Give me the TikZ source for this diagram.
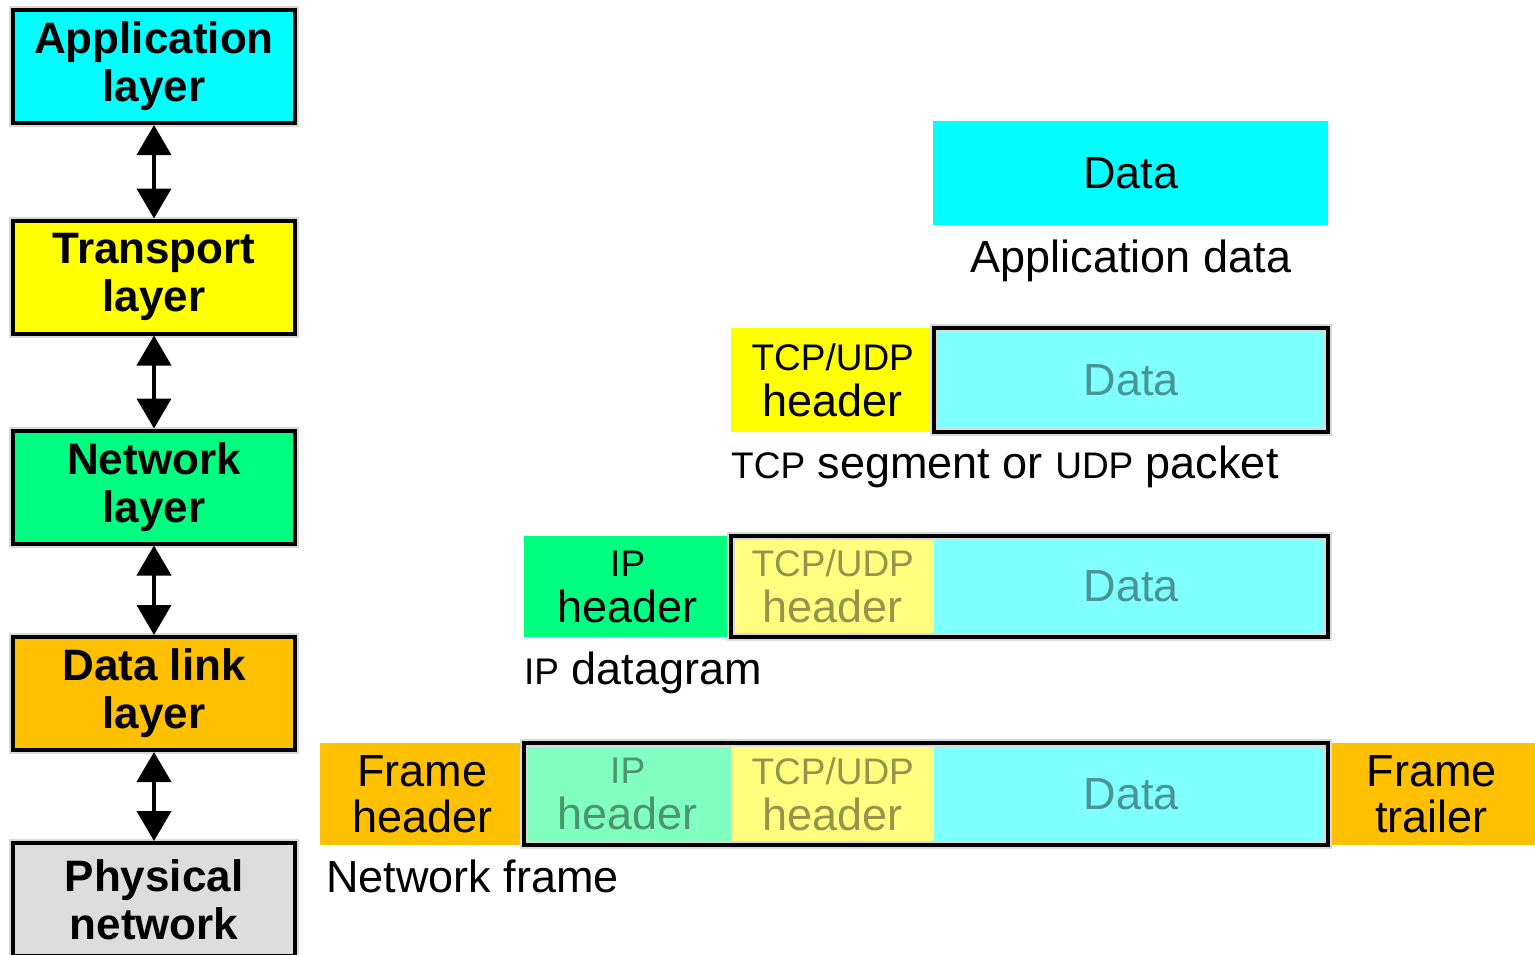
\documentclass[tikz,border=0pt]{standalone}
\usepackage{fontspec}
\setmainfont{Liberation Sans}
\usetikzlibrary{positioning,arrows.meta}

\definecolor{appcyan}{HTML}{00FFFF}
\definecolor{tpyellow}{HTML}{FFFF00}
\definecolor{netgreen}{HTML}{00FF80}
\definecolor{linkorange}{HTML}{FFC000}
\definecolor{physgray}{HTML}{DDDDDD}
\definecolor{paleapp}{HTML}{80FFFF}
\definecolor{paletp}{HTML}{FFFF80}
\definecolor{palenet}{HTML}{80FFC0}

\newcommand{\acr}[1]{{\fontsize{37}{40}\selectfont #1}}

\tikzset{
  layerbox/.style={draw, line width=4pt, minimum width=282pt, minimum height=113pt,
    inner sep=0pt, align=center, font=\bfseries\fontsize{44}{48}\selectfont,
    preaction={draw=black!15, line width=8pt}},
  cell/.style={minimum height=104pt, inner sep=0pt, anchor=north west,
    align=center, font=\fontsize{45}{48}\selectfont},
  faded/.style={text opacity=0.42},
  pkt/.style={draw, line width=4pt, preaction={draw=black!15, line width=8pt}},
  updown/.style={{Triangle[width=34pt,length=30pt]}-{Triangle[width=34pt,length=30pt]},
    line width=4pt},
  caption/.style={font=\fontsize{45}{48}\selectfont, inner sep=0pt, anchor=base west}
}

\begin{document}
\begin{tikzpicture}[x=1pt,y=-1pt]
  \useasboundingbox[fill=white] (0,0) rectangle (1535,954);

  % layer stack
  \node[layerbox, fill=appcyan] (app) at (154,66.5) {Application\\layer};
  \node[layerbox, fill=tpyellow] (tp) at (154,277) {Transport\\layer};
  \node[layerbox, fill=netgreen] (net) at (154,487) {Network\\layer};
  \node[layerbox, fill=linkorange] (link) at (154,693.5) {Data link\\layer};
  \node[layerbox, fill=physgray] (phys) at (154,899.5) {Physical\\network};

  \begin{scope}[updown]
    \draw (app) to (tp);
    \draw (tp) to (net);
    \draw (net) to (link);
    \draw (link) to (phys);
  \end{scope}

  % application data
  \node[cell, fill=appcyan, minimum width=395pt] (data1) at (933,121) {Data};
  \node[caption, anchor=base] (lbl1) at (1131,272) {Application data};

  % segment
  \node[cell, fill=tpyellow, minimum width=203pt] (tcp2) at (731,328) {\acr{TCP/UDP}\\[-2pt]header};
  \node[cell, fill=paleapp, minimum width=394pt, faded] (data2) at (934,328) {Data};
  \draw[pkt] (data2.north west) rectangle (data2.south east);
  \node[caption] (lbl2) at (731,478) {\acr{TCP} segment or \acr{UDP} packet};

  % datagram
  \node[cell, fill=netgreen, minimum width=207pt, minimum height=101pt] (ip3) at (524,536) {\acr{IP}\\[-2pt]header};
  \node[cell, fill=paletp, minimum width=203pt, minimum height=101pt, faded] (tcp3) at (731,536) {\acr{TCP/UDP}\\[-2pt]header};
  \node[cell, fill=paleapp, minimum width=394pt, minimum height=101pt, faded] (data3) at (934,536) {Data};
  \draw[pkt] (tcp3.north west) rectangle (data3.south east);
  \node[caption] (lbl3) at (524,684) {\acr{IP} datagram};

  % frame
  \node[cell, fill=linkorange, minimum width=204pt, minimum height=102pt] (fh4) at (320,743) {Frame\\[-2pt]header};
  \node[cell, fill=palenet, minimum width=207pt, minimum height=102pt, faded] (ip4) at (524,743) {\acr{IP}\\[-2pt]header};
  \node[cell, fill=paletp, minimum width=203pt, minimum height=102pt, faded] (tcp4) at (731,743) {\acr{TCP/UDP}\\[-2pt]header};
  \node[cell, fill=paleapp, minimum width=394pt, minimum height=102pt, faded] (data4) at (934,743) {Data};
  \node[cell, fill=linkorange, minimum width=207pt, minimum height=102pt] (ft4) at (1328,743) {Frame\\[-2pt]trailer};
  \draw[pkt] (ip4.north west) rectangle (data4.south east);
  \node[caption] (lbl4) at (326,892) {Network frame};
\end{tikzpicture}
\end{document}
